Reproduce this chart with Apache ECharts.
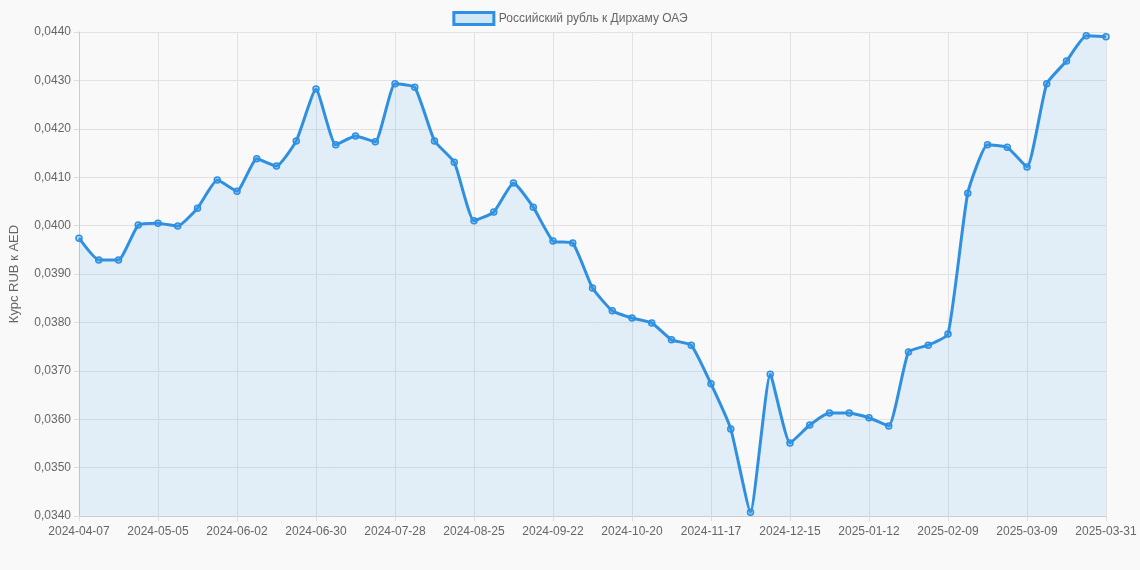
<!DOCTYPE html>
<html>
<head>
<meta charset="utf-8">
<script src="https://cdn.jsdelivr.net/npm/echarts@6/dist/echarts.min.js"></script>
<style>
  html, body { margin: 0; padding: 0; background: #f9f9f9; }
  #chart { width: 1140px; height: 570px; }
</style>
</head>
<body>
<div id="chart"></div>
<script>
var dates = [
  "2024-04-07", "2024-04-14", "2024-04-21", "2024-04-28", "2024-05-05", "2024-05-12",
  "2024-05-19", "2024-05-26", "2024-06-02", "2024-06-09", "2024-06-16", "2024-06-23",
  "2024-06-30", "2024-07-07", "2024-07-14", "2024-07-21", "2024-07-28", "2024-08-04",
  "2024-08-11", "2024-08-18", "2024-08-25", "2024-09-01", "2024-09-08", "2024-09-15",
  "2024-09-22", "2024-09-29", "2024-10-06", "2024-10-13", "2024-10-20", "2024-10-27",
  "2024-11-03", "2024-11-10", "2024-11-17", "2024-11-24", "2024-12-01", "2024-12-08",
  "2024-12-15", "2024-12-22", "2024-12-29", "2025-01-05", "2025-01-12", "2025-01-19",
  "2025-01-26", "2025-02-02", "2025-02-09", "2025-02-16", "2025-02-23", "2025-03-02",
  "2025-03-09", "2025-03-16", "2025-03-23", "2025-03-30", "2025-03-31"
];
var rates = [
  0.03974, 0.03929, 0.03929, 0.04001, 0.04005, 0.03999, 0.04036, 0.04094, 0.04071,
  0.04138, 0.04123, 0.04175, 0.04282, 0.04167, 0.04185, 0.04173, 0.04293, 0.04286,
  0.04175, 0.04131, 0.04010, 0.04028, 0.04088, 0.04038, 0.03968, 0.03964, 0.03871,
  0.03824, 0.03809, 0.03799, 0.03764, 0.03753, 0.03673, 0.03580, 0.03408, 0.03693,
  0.03551, 0.03588, 0.03613, 0.03613, 0.03603, 0.03586, 0.03739, 0.03753, 0.03776,
  0.04067, 0.04167, 0.04162, 0.04121, 0.04293, 0.04340, 0.04392, 0.04390
];
var seriesName = "Российский рубль к Дирхаму ОАЭ";

var chart = echarts.init(document.getElementById("chart"));
chart.setOption({
  backgroundColor: "#f9f9f9",
  animation: false,
  textStyle: { fontFamily: "Liberation Sans, Arial, sans-serif" },
  legend: {
    top: 6,
    itemWidth: 40,
    itemHeight: 12,
    textStyle: { color: "#666", fontSize: 12 },
    data: [{ name: seriesName, icon: "rect",
      itemStyle: { color: "rgba(54,162,235,0.2)", borderColor: "#2f8fe0", borderWidth: 3 } }]
  },
  grid: { left: 75, right: 34, top: 32, bottom: 54 },
  xAxis: {
    type: "category",
    data: dates,
    boundaryGap: false,
    axisLine: { lineStyle: { color: "#ccc" } },
    axisTick: { show: true, interval: 3, lineStyle: { color: "#ddd" } },
    axisLabel: { interval: 3, color: "#666", fontSize: 12, margin: 10 },
    splitLine: { show: true, interval: 3, lineStyle: { color: "#e2e2e2" } }
  },
  yAxis: {
    type: "value",
    min: 0.034,
    max: 0.044,
    interval: 0.001,
    name: "Курс RUB к AED",
    nameLocation: "middle",
    nameGap: 58,
    nameTextStyle: { color: "#666", fontSize: 13 },
    axisLine: { show: true, lineStyle: { color: "#ccc" } },
    axisTick: { show: true, lineStyle: { color: "#ddd" } },
    axisLabel: { color: "#666", fontSize: 12,
      formatter: function (v) { return v.toFixed(4).replace(".", ","); } },
    splitLine: { lineStyle: { color: "#e2e2e2" } }
  },
  series: [{
    name: seriesName,
    type: "line",
    data: rates,
    smooth: 0.15,
    symbol: "circle",
    symbolSize: 6,
    lineStyle: { color: "#2f8fe0", width: 3 },
    itemStyle: { color: "rgba(54,162,235,0.3)", borderColor: "#2f8fe0", borderWidth: 1.5 },
    areaStyle: { color: "rgba(54,162,235,0.16)" }
  }]
});
</script>
</body>
</html>
